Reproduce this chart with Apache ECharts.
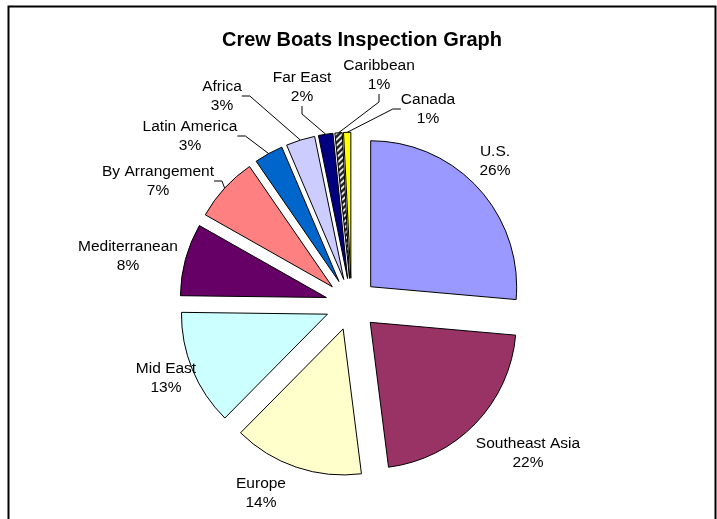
<!DOCTYPE html>
<html><head><meta charset="utf-8">
<script src="https://cdn.jsdelivr.net/npm/echarts@6/dist/echarts.min.js"></script>
<style>html,body{margin:0;padding:0;background:#fff;} #c{width:717px;height:519px;}</style>
</head><body><div id="c"></div>
<script>
// ---- data ----
const categories = ['U.S.', 'Southeast Asia', 'Europe', 'Mid East', 'Mediterranean', 'By Arrangement', 'Latin America', 'Africa', 'Far East', 'Caribbean', 'Canada'];
const values = [33, 27, 18, 16, 10, 9, 4, 4, 2, 1, 1];

// ---- styling / layout ----
const sliceColors = ['#9999FF', '#993366', '#FFFFCC', '#CCFFFF', '#660066', '#FF8080', '#0066CC', '#CCCCFF', '#000080', 'hatch', '#FFFF00'];
const labelPos = [[495,161],[528,453],[261,493],[166,378],[128,256],[158,181],[190,136],[222,96],[302,87],[379,75],[428,109]];
const showLine = [false,false,false,false,false,true,true,true,true,true,true];

function hatch() {
  const c = document.createElement('canvas');
  c.width = 6; c.height = 6;
  const g = c.getContext('2d');
  g.fillStyle = '#222'; g.fillRect(0,0,6,6);
  g.strokeStyle = '#fff'; g.lineWidth = 1.6;
  g.beginPath();
  g.moveTo(-1,7); g.lineTo(7,-1);
  g.moveTo(-4,4); g.lineTo(4,-4);
  g.moveTo(2,10); g.lineTo(10,2);
  g.stroke();
  return {image: c, repeat: 'repeat'};
}

const chart = echarts.init(document.getElementById('c'), null, {renderer: 'canvas'});
const sliceData = categories.map((name, i) => ({
  name: name,
  value: values[i],
  selected: true,
  itemStyle: {color: sliceColors[i] === 'hatch' ? hatch() : sliceColors[i]}
}));
const labelData = categories.map((name, i) => ({
  name: name,
  value: values[i],
  labelLine: {show: showLine[i]}
}));
const font = 'Liberation Sans, Arial, sans-serif';

chart.setOption({
  animation: false,
  backgroundColor: '#fff',
  title: {
    text: 'Crew Boats Inspection Graph',
    left: 357, top: 25, textAlign: 'center',
    textStyle: {fontFamily: font, fontSize: 20, fontWeight: 'bold', color: '#000'}
  },
  graphic: [{
    type: 'rect', silent: true,
    shape: {x: 8.5, y: 6.5, width: 707, height: 540},
    style: {fill: 'none', stroke: '#000', lineWidth: 2}
  }],
  series: [{
    type: 'pie',
    center: [351.5, 304.3],
    radius: [0, 146],
    startAngle: 90,
    clockwise: true,
    selectedMode: 'multiple',
    selectedOffset: 26,
    emphasis: {disabled: true},
    itemStyle: {borderColor: '#000', borderWidth: 1},
    label: {show: false},
    labelLine: {show: false},
    data: sliceData
  }, {
    type: 'pie',
    silent: true,
    center: [351.5, 304.3],
    radius: [0, 172],
    startAngle: 90,
    clockwise: true,
    percentPrecision: 0,
    avoidLabelOverlap: false,
    emphasis: {disabled: true},
    itemStyle: {color: 'rgba(0,0,0,0)', borderWidth: 0},
    label: {
      show: true,
      formatter: '{b}\n{d}%',
      fontFamily: font,
      fontSize: 15.5,
      lineHeight: 19,
      color: '#000',
      align: 'center'
    },
    labelLine: {lineStyle: {color: '#000', width: 1}, length: 8, length2: 8},
    labelLayout: function (p) {
      const q = labelPos[p.dataIndex];
      return {x: q[0], y: q[1], align: 'center', verticalAlign: 'middle'};
    },
    data: labelData
  }]
});
</script>
</body></html>
